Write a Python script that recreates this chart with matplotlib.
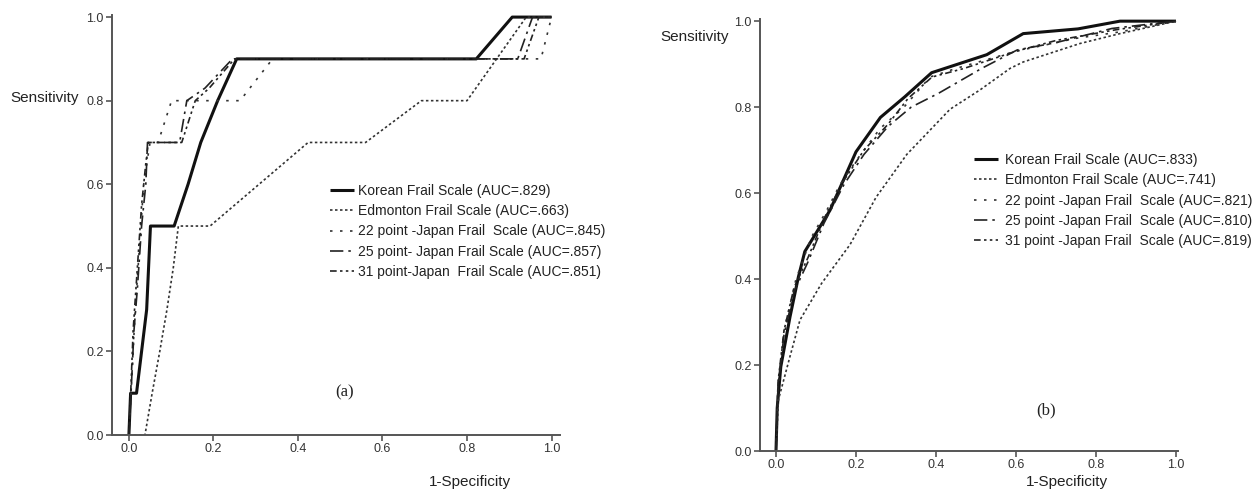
import matplotlib
matplotlib.use("Agg")
import matplotlib.pyplot as plt

plt.rcParams['font.family'] = ['Liberation Sans', 'DejaVu Sans']

# ---------------- Panel (a) data ----------------
a_labels = ["Korean Frail Scale (AUC=.829)",
            "Edmonton Frail Scale (AUC=.663)",
            "22 point -Japan Frail  Scale (AUC=.845)",
            "25 point- Japan Frail Scale (AUC=.857)",
            "31 point-Japan  Frail Scale (AUC=.851)"]
a_korean_x = [0, 0.004, 0.013, 0.018, 0.042, 0.051, 0.107, 0.14, 0.17, 0.21, 0.255, 0.822, 0.907, 1.0]
a_korean_y = [0, 0.1, 0.1, 0.1, 0.3, 0.5, 0.5, 0.6, 0.7, 0.8, 0.9, 0.9, 1.0, 1.0]
a_edm_x = [0, 0.038, 0.055, 0.073, 0.09, 0.105, 0.117, 0.192, 0.424, 0.56, 0.692, 0.80, 0.87, 0.94, 1.0]
a_edm_y = [0, 0.0, 0.1, 0.2, 0.3, 0.4, 0.5, 0.5, 0.7, 0.7, 0.8, 0.8, 0.9, 1.0, 1.0]
a_22_x = [0, 0.005, 0.01, 0.015, 0.025, 0.035, 0.05, 0.069, 0.101, 0.263, 0.34, 0.975, 1.0]
a_22_y = [0, 0.1, 0.2, 0.3, 0.45, 0.6, 0.7, 0.7, 0.8, 0.8, 0.9, 0.9, 1.0]
a_25_x = [0, 0.005, 0.012, 0.02, 0.03, 0.04, 0.044, 0.12, 0.137, 0.18, 0.245, 0.92, 0.955, 1.0]
a_25_y = [0, 0.1, 0.25, 0.35, 0.5, 0.6, 0.7, 0.7, 0.8, 0.83, 0.9, 0.9, 1.0, 1.0]
a_31_x = [0, 0.005, 0.01, 0.02, 0.03, 0.04, 0.046, 0.125, 0.157, 0.19, 0.25, 0.935, 0.97, 1.0]
a_31_y = [0, 0.12, 0.25, 0.4, 0.55, 0.65, 0.7, 0.7, 0.8, 0.83, 0.9, 0.9, 1.0, 1.0]

# ---------------- Panel (b) data ----------------
b_labels = ["Korean Frail Scale (AUC=.833)",
            "Edmonton Frail Scale (AUC=.741)",
            "22 point -Japan Frail  Scale (AUC=.821)",
            "25 point -Japan Frail  Scale (AUC=.810)",
            "31 point -Japan Frail  Scale (AUC=.819)"]
b_korean_x = [0, 0.003, 0.012, 0.035, 0.056, 0.072, 0.135, 0.2, 0.261, 0.322, 0.389, 0.527, 0.618, 0.755, 0.86, 1.0]
b_korean_y = [0, 0.1, 0.196, 0.312, 0.405, 0.464, 0.56, 0.696, 0.776, 0.824, 0.88, 0.922, 0.971, 0.982, 1.0, 1.0]
b_edm_x = [0, 0.006, 0.035, 0.06, 0.114, 0.185, 0.25, 0.327, 0.435, 0.51, 0.585, 0.618, 0.76, 0.86, 1.0]
b_edm_y = [0, 0.119, 0.22, 0.305, 0.39, 0.48, 0.59, 0.69, 0.795, 0.84, 0.89, 0.905, 0.948, 0.971, 1.0]
b_22_x = [0, 0.005, 0.02, 0.05, 0.089, 0.127, 0.16, 0.2, 0.26, 0.32, 0.385, 0.45, 0.6, 0.75, 0.86, 1.0]
b_22_y = [0, 0.15, 0.28, 0.4, 0.498, 0.56, 0.62, 0.675, 0.75, 0.80, 0.87, 0.89, 0.93, 0.96, 0.975, 1.0]
b_25_x = [0, 0.005, 0.02, 0.045, 0.08, 0.12, 0.17, 0.22, 0.28, 0.338, 0.406, 0.514, 0.603, 0.7, 0.84, 0.97, 1.0]
b_25_y = [0, 0.15, 0.27, 0.37, 0.44, 0.53, 0.62, 0.69, 0.755, 0.80, 0.832, 0.89, 0.933, 0.95, 0.983, 0.997, 1.0]
b_31_x = [0, 0.005, 0.02, 0.045, 0.08, 0.12, 0.17, 0.22, 0.28, 0.33, 0.39, 0.47, 0.6, 0.7, 0.85, 1.0]
b_31_y = [0, 0.16, 0.28, 0.38, 0.45, 0.54, 0.63, 0.70, 0.76, 0.82, 0.87, 0.89, 0.93, 0.955, 0.98, 1.0]

ticks = [0.0, 0.2, 0.4, 0.6, 0.8, 1.0]
tick_labels = ["0.0", "0.2", "0.4", "0.6", "0.8", "1.0"]

styles = [
    dict(color="#111111", lw=2.2, ls="-"),
    dict(color="#333333", lw=1.2, ls=(0, (1.5, 1.5))),
    dict(color="#333333", lw=1.2, ls=(0, (1.5, 4.5))),
    dict(color="#222222", lw=1.2, ls=(0, (8, 3, 1.5, 3))),
    dict(color="#222222", lw=1.2, ls=(0, (4, 2, 1.5, 2, 1.5, 2))),
]

W, H = 1256, 491
fig = plt.figure(figsize=(W / 100, H / 100), dpi=100)


def px_axes(l, r, b, t):
    return fig.add_axes([l / W, 1 - b / H, (r - l) / W, (b - t) / H])


def style_axes(ax, xlim, ylim):
    ax.set_xlim(*xlim)
    ax.set_ylim(*ylim)
    ax.set_xticks(ticks)
    ax.set_xticklabels(tick_labels)
    ax.set_yticks(ticks)
    ax.set_yticklabels(tick_labels)
    for s in ["top", "right"]:
        ax.spines[s].set_visible(False)
    for s in ["left", "bottom"]:
        ax.spines[s].set_color("#555555")
        ax.spines[s].set_linewidth(1.4)
    ax.tick_params(direction="out", length=4, width=1.2, color="#555555",
                   labelsize=9, labelcolor="#333333", pad=2)


# Panel (a)
axa = px_axes(112, 560, 435, 15)
series_a = [(a_korean_x, a_korean_y), (a_edm_x, a_edm_y), (a_22_x, a_22_y),
            (a_25_x, a_25_y), (a_31_x, a_31_y)]
for (x, y), st, lab in zip(series_a, styles, a_labels):
    axa.plot(x, y, label=lab, solid_capstyle="butt", **st)
style_axes(axa, (-0.04, 1.02), (0, 1.005))
axa.legend(loc="upper left", bbox_to_anchor=(330 / W, 1 - 184 / H),
           bbox_transform=fig.transFigure, frameon=False, fontsize=10,
           handlelength=1.7, handletextpad=0.35, labelspacing=0.45,
           borderpad=0, borderaxespad=0, labelcolor="#222222")

# Panel (b)
axb = px_axes(760, 1178, 451, 19)
series_b = [(b_korean_x, b_korean_y), (b_edm_x, b_edm_y), (b_22_x, b_22_y),
            (b_25_x, b_25_y), (b_31_x, b_31_y)]
for (x, y), st, lab in zip(series_b, styles, b_labels):
    axb.plot(x, y, label=lab, solid_capstyle="butt", **st)
style_axes(axb, (-0.04, 1.005), (0, 1.005))
axb.legend(loc="upper left", bbox_to_anchor=(974 / W, 1 - 153 / H),
           bbox_transform=fig.transFigure, frameon=False, fontsize=10,
           handlelength=1.7, handletextpad=0.55, labelspacing=0.45,
           borderpad=0, borderaxespad=0, labelcolor="#222222")

# Axis titles and panel tags placed in figure pixels
def ftext(x, y, s, **kw):
    fig.text(x / W, 1 - y / H, s, ha="center", va="center", **kw)

ftext(45, 98, "Sensitivity", fontsize=11, color="#222222")
ftext(470, 482, "1-Specificity", fontsize=11, color="#222222")
ftext(695, 37, "Sensitivity", fontsize=11, color="#222222")
ftext(1067, 482, "1-Specificity", fontsize=11, color="#222222")
ftext(345, 392, "(a)", fontsize=12, family="Liberation Serif", color="#222222")
ftext(1046, 410, "(b)", fontsize=12, family="Liberation Serif", color="#222222")

fig.savefig("out.png", dpi=100, facecolor="white")
